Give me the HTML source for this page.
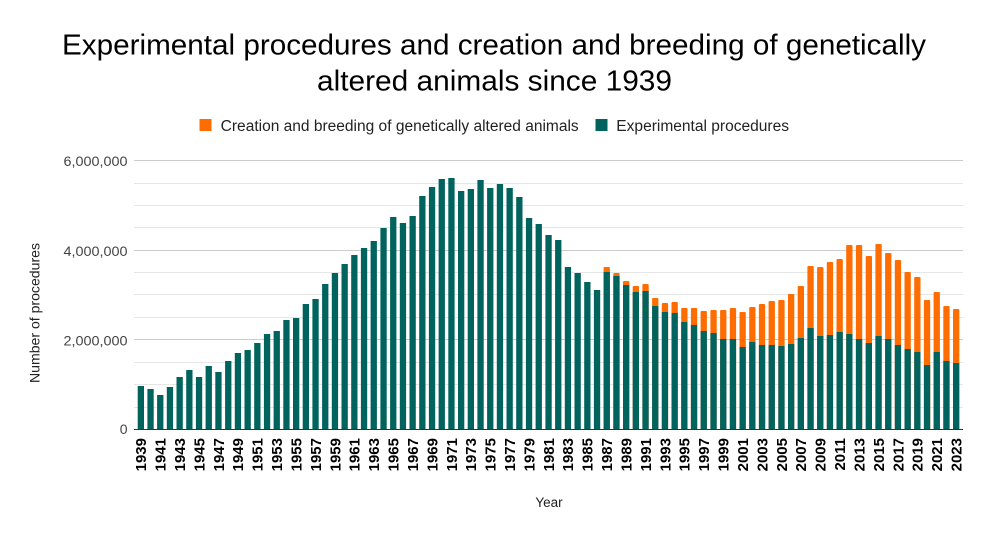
<!DOCTYPE html>
<html><head><meta charset="utf-8"><style>
html,body{margin:0;padding:0;background:#fff}
svg{display:block}
text{font-family:"Liberation Sans",Arial,sans-serif}
</style></head><body>
<svg width="989" height="537" viewBox="0 0 989 537" xmlns="http://www.w3.org/2000/svg">
<rect width="989" height="537" fill="#fff"/>
<text x="494" y="54.3" font-size="29" text-anchor="middle" fill="#000" textLength="864" lengthAdjust="spacingAndGlyphs">Experimental procedures and creation and breeding of genetically</text>
<text x="494.5" y="90.7" font-size="29" text-anchor="middle" fill="#000" textLength="355" lengthAdjust="spacingAndGlyphs">altered animals since 1939</text>
<rect x="199.5" y="119" width="12" height="12" fill="#ff6d00"/>
<text x="220.7" y="131" font-size="15.5" fill="#222" textLength="358" lengthAdjust="spacingAndGlyphs">Creation and breeding of genetically altered animals</text>
<rect x="595.5" y="119" width="12" height="12" fill="#00635e"/>
<text x="616.3" y="131" font-size="15.5" fill="#222" textLength="172.7" lengthAdjust="spacingAndGlyphs">Experimental procedures</text>
<g stroke-width="1" fill="none">
<line x1="134" x2="963" y1="160.5" y2="160.5" stroke="#cccccc"/>
<line x1="134" x2="963" y1="183.5" y2="183.5" stroke="#e6e6e6"/>
<line x1="134" x2="963" y1="205.5" y2="205.5" stroke="#e6e6e6"/>
<line x1="134" x2="963" y1="227.5" y2="227.5" stroke="#e6e6e6"/>
<line x1="134" x2="963" y1="250.5" y2="250.5" stroke="#cccccc"/>
<line x1="134" x2="963" y1="272.5" y2="272.5" stroke="#e6e6e6"/>
<line x1="134" x2="963" y1="294.5" y2="294.5" stroke="#e6e6e6"/>
<line x1="134" x2="963" y1="317.5" y2="317.5" stroke="#e6e6e6"/>
<line x1="134" x2="963" y1="339.5" y2="339.5" stroke="#cccccc"/>
<line x1="134" x2="963" y1="362.5" y2="362.5" stroke="#e6e6e6"/>
<line x1="134" x2="963" y1="384.5" y2="384.5" stroke="#e6e6e6"/>
<line x1="134" x2="963" y1="407.5" y2="407.5" stroke="#e6e6e6"/>
</g>
<g font-size="14" fill="#444" text-anchor="end">
<text x="127.5" y="166" textLength="64" lengthAdjust="spacingAndGlyphs">6,000,000</text>
<text x="127.5" y="256" textLength="64" lengthAdjust="spacingAndGlyphs">4,000,000</text>
<text x="127.5" y="345.5" textLength="64" lengthAdjust="spacingAndGlyphs">2,000,000</text>
<text x="127.5" y="434">0</text>
</g>
<text transform="translate(39.5,313) rotate(-90)" font-size="14" fill="#222" text-anchor="middle" textLength="140" lengthAdjust="spacingAndGlyphs">Number of procedures</text>
<text x="549" y="507" font-size="13.5" fill="#222" text-anchor="middle">Year</text>
<!-- orange bars -->
<g fill="#ff6d00">
<rect x="603.6" y="267" width="6.3" height="162" rx="1"/>
<rect x="613.3" y="273" width="6.3" height="156" rx="1"/>
<rect x="623.0" y="281" width="6.3" height="148" rx="1"/>
<rect x="632.7" y="286" width="6.3" height="143" rx="1"/>
<rect x="642.4" y="284" width="6.3" height="145" rx="1"/>
<rect x="652.1" y="298" width="6.3" height="131" rx="1"/>
<rect x="661.8" y="303" width="6.3" height="126" rx="1"/>
<rect x="671.5" y="302" width="6.3" height="127" rx="1"/>
<rect x="681.2" y="308" width="6.3" height="121" rx="1"/>
<rect x="690.9" y="308" width="6.3" height="121" rx="1"/>
<rect x="700.6" y="311" width="6.3" height="118" rx="1"/>
<rect x="710.4" y="310" width="6.3" height="119" rx="1"/>
<rect x="720.1" y="310" width="6.3" height="119" rx="1"/>
<rect x="729.8" y="308" width="6.3" height="121" rx="1"/>
<rect x="739.5" y="312" width="6.3" height="117" rx="1"/>
<rect x="749.2" y="307" width="6.3" height="122" rx="1"/>
<rect x="758.9" y="304" width="6.3" height="125" rx="1"/>
<rect x="768.6" y="301" width="6.3" height="128" rx="1"/>
<rect x="778.3" y="300" width="6.3" height="129" rx="1"/>
<rect x="788.0" y="294" width="6.3" height="135" rx="1"/>
<rect x="797.7" y="286" width="6.3" height="143" rx="1"/>
<rect x="807.4" y="266" width="6.3" height="163" rx="1"/>
<rect x="817.1" y="267" width="6.3" height="162" rx="1"/>
<rect x="826.8" y="262" width="6.3" height="167" rx="1"/>
<rect x="836.5" y="259" width="6.3" height="170" rx="1"/>
<rect x="846.2" y="245" width="6.3" height="184" rx="1"/>
<rect x="855.9" y="245" width="6.3" height="184" rx="1"/>
<rect x="865.7" y="256" width="6.3" height="173" rx="1"/>
<rect x="875.4" y="244" width="6.3" height="185" rx="1"/>
<rect x="885.1" y="253" width="6.3" height="176" rx="1"/>
<rect x="894.8" y="260" width="6.3" height="169" rx="1"/>
<rect x="904.5" y="272" width="6.3" height="157" rx="1"/>
<rect x="914.2" y="277" width="6.3" height="152" rx="1"/>
<rect x="923.9" y="300" width="6.3" height="129" rx="1"/>
<rect x="933.6" y="292" width="6.3" height="137" rx="1"/>
<rect x="943.3" y="306" width="6.3" height="123" rx="1"/>
<rect x="953.0" y="309" width="6.3" height="120" rx="1"/>
</g>
<!-- green bars -->
<g fill="#00635e">
<rect x="137.7" y="386" width="6.3" height="43"/>
<rect x="147.4" y="389" width="6.3" height="40"/>
<rect x="157.1" y="395" width="6.3" height="34"/>
<rect x="166.8" y="387" width="6.3" height="42"/>
<rect x="176.5" y="377" width="6.3" height="52"/>
<rect x="186.2" y="370" width="6.3" height="59"/>
<rect x="195.9" y="377" width="6.3" height="52"/>
<rect x="205.6" y="366" width="6.3" height="63"/>
<rect x="215.3" y="372" width="6.3" height="57"/>
<rect x="225.1" y="361" width="6.3" height="68"/>
<rect x="234.8" y="353" width="6.3" height="76"/>
<rect x="244.5" y="350" width="6.3" height="79"/>
<rect x="254.2" y="343" width="6.3" height="86"/>
<rect x="263.9" y="334" width="6.3" height="95"/>
<rect x="273.6" y="331" width="6.3" height="98"/>
<rect x="283.3" y="320" width="6.3" height="109"/>
<rect x="293.0" y="318" width="6.3" height="111"/>
<rect x="302.7" y="304" width="6.3" height="125"/>
<rect x="312.4" y="299" width="6.3" height="130"/>
<rect x="322.1" y="284" width="6.3" height="145"/>
<rect x="331.8" y="273" width="6.3" height="156"/>
<rect x="341.5" y="264" width="6.3" height="165"/>
<rect x="351.2" y="255" width="6.3" height="174"/>
<rect x="360.9" y="248" width="6.3" height="181"/>
<rect x="370.6" y="241" width="6.3" height="188"/>
<rect x="380.4" y="228" width="6.3" height="201"/>
<rect x="390.1" y="217" width="6.3" height="212"/>
<rect x="399.8" y="223" width="6.3" height="206"/>
<rect x="409.5" y="216" width="6.3" height="213"/>
<rect x="419.2" y="196" width="6.3" height="233"/>
<rect x="428.9" y="187" width="6.3" height="242"/>
<rect x="438.6" y="179" width="6.3" height="250"/>
<rect x="448.3" y="178" width="6.3" height="251"/>
<rect x="458.0" y="191" width="6.3" height="238"/>
<rect x="467.7" y="189" width="6.3" height="240"/>
<rect x="477.4" y="180" width="6.3" height="249"/>
<rect x="487.1" y="188" width="6.3" height="241"/>
<rect x="496.8" y="184" width="6.3" height="245"/>
<rect x="506.5" y="188" width="6.3" height="241"/>
<rect x="516.2" y="197" width="6.3" height="232"/>
<rect x="525.9" y="218" width="6.3" height="211"/>
<rect x="535.6" y="224" width="6.3" height="205"/>
<rect x="545.4" y="235" width="6.3" height="194"/>
<rect x="555.1" y="240" width="6.3" height="189"/>
<rect x="564.8" y="267" width="6.3" height="162"/>
<rect x="574.5" y="273" width="6.3" height="156"/>
<rect x="584.2" y="282" width="6.3" height="147"/>
<rect x="593.9" y="290" width="6.3" height="139"/>
<rect x="603.6" y="272" width="6.3" height="157"/>
<rect x="613.3" y="276" width="6.3" height="153"/>
<rect x="623.0" y="285" width="6.3" height="144"/>
<rect x="632.7" y="292" width="6.3" height="137"/>
<rect x="642.4" y="291" width="6.3" height="138"/>
<rect x="652.1" y="306" width="6.3" height="123"/>
<rect x="661.8" y="312" width="6.3" height="117"/>
<rect x="671.5" y="313" width="6.3" height="116"/>
<rect x="681.2" y="322" width="6.3" height="107"/>
<rect x="690.9" y="325" width="6.3" height="104"/>
<rect x="700.6" y="331" width="6.3" height="98"/>
<rect x="710.4" y="333" width="6.3" height="96"/>
<rect x="720.1" y="339" width="6.3" height="90"/>
<rect x="729.8" y="339" width="6.3" height="90"/>
<rect x="739.5" y="347" width="6.3" height="82"/>
<rect x="749.2" y="342" width="6.3" height="87"/>
<rect x="758.9" y="345" width="6.3" height="84"/>
<rect x="768.6" y="345" width="6.3" height="84"/>
<rect x="778.3" y="346" width="6.3" height="83"/>
<rect x="788.0" y="344" width="6.3" height="85"/>
<rect x="797.7" y="338" width="6.3" height="91"/>
<rect x="807.4" y="328" width="6.3" height="101"/>
<rect x="817.1" y="336" width="6.3" height="93"/>
<rect x="826.8" y="335" width="6.3" height="94"/>
<rect x="836.5" y="332" width="6.3" height="97"/>
<rect x="846.2" y="334" width="6.3" height="95"/>
<rect x="855.9" y="339" width="6.3" height="90"/>
<rect x="865.7" y="343" width="6.3" height="86"/>
<rect x="875.4" y="336" width="6.3" height="93"/>
<rect x="885.1" y="339" width="6.3" height="90"/>
<rect x="894.8" y="345" width="6.3" height="84"/>
<rect x="904.5" y="349" width="6.3" height="80"/>
<rect x="914.2" y="352" width="6.3" height="77"/>
<rect x="923.9" y="365" width="6.3" height="64"/>
<rect x="933.6" y="352" width="6.3" height="77"/>
<rect x="943.3" y="361" width="6.3" height="68"/>
<rect x="953.0" y="363" width="6.3" height="66"/>
</g>
<line x1="134" x2="963" y1="429.5" y2="429.5" stroke="#333" stroke-width="1"/>
<g font-size="15" font-weight="bold" fill="#000" text-anchor="end">
<text transform="translate(146.2,438) rotate(-90)">1939</text>
<text transform="translate(165.6,438) rotate(-90)">1941</text>
<text transform="translate(185.0,438) rotate(-90)">1943</text>
<text transform="translate(204.4,438) rotate(-90)">1945</text>
<text transform="translate(223.8,438) rotate(-90)">1947</text>
<text transform="translate(243.2,438) rotate(-90)">1949</text>
<text transform="translate(262.6,438) rotate(-90)">1951</text>
<text transform="translate(282.0,438) rotate(-90)">1953</text>
<text transform="translate(301.5,438) rotate(-90)">1955</text>
<text transform="translate(320.9,438) rotate(-90)">1957</text>
<text transform="translate(340.3,438) rotate(-90)">1959</text>
<text transform="translate(359.7,438) rotate(-90)">1961</text>
<text transform="translate(379.1,438) rotate(-90)">1963</text>
<text transform="translate(398.5,438) rotate(-90)">1965</text>
<text transform="translate(417.9,438) rotate(-90)">1967</text>
<text transform="translate(437.3,438) rotate(-90)">1969</text>
<text transform="translate(456.8,438) rotate(-90)">1971</text>
<text transform="translate(476.2,438) rotate(-90)">1973</text>
<text transform="translate(495.6,438) rotate(-90)">1975</text>
<text transform="translate(515.0,438) rotate(-90)">1977</text>
<text transform="translate(534.4,438) rotate(-90)">1979</text>
<text transform="translate(553.8,438) rotate(-90)">1981</text>
<text transform="translate(573.2,438) rotate(-90)">1983</text>
<text transform="translate(592.6,438) rotate(-90)">1985</text>
<text transform="translate(612.1,438) rotate(-90)">1987</text>
<text transform="translate(631.5,438) rotate(-90)">1989</text>
<text transform="translate(650.9,438) rotate(-90)">1991</text>
<text transform="translate(670.3,438) rotate(-90)">1993</text>
<text transform="translate(689.7,438) rotate(-90)">1995</text>
<text transform="translate(709.1,438) rotate(-90)">1997</text>
<text transform="translate(728.5,438) rotate(-90)">1999</text>
<text transform="translate(748.0,438) rotate(-90)">2001</text>
<text transform="translate(767.4,438) rotate(-90)">2003</text>
<text transform="translate(786.8,438) rotate(-90)">2005</text>
<text transform="translate(806.2,438) rotate(-90)">2007</text>
<text transform="translate(825.6,438) rotate(-90)">2009</text>
<text transform="translate(845.0,438) rotate(-90)">2011</text>
<text transform="translate(864.4,438) rotate(-90)">2013</text>
<text transform="translate(883.9,438) rotate(-90)">2015</text>
<text transform="translate(903.3,438) rotate(-90)">2017</text>
<text transform="translate(922.7,438) rotate(-90)">2019</text>
<text transform="translate(942.1,438) rotate(-90)">2021</text>
<text transform="translate(961.5,438) rotate(-90)">2023</text>
</g>
</svg>
</body></html>
